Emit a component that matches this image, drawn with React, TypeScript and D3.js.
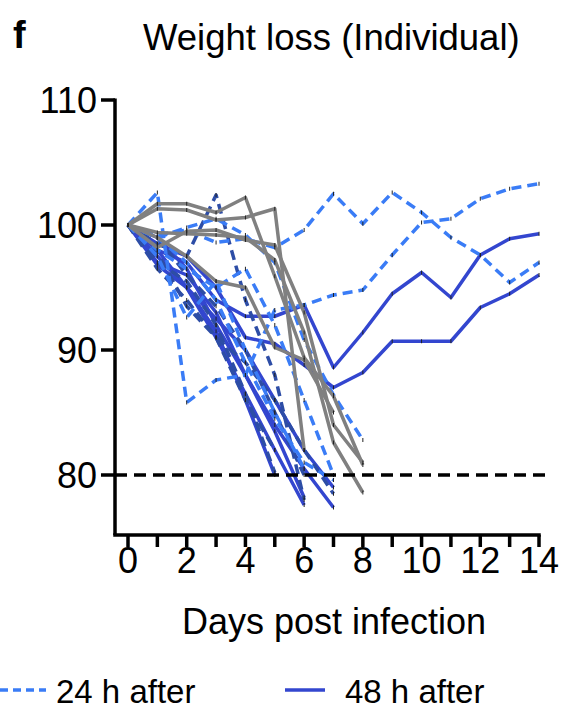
import React from "react";
import * as d3 from "d3";

// ---- Data (percent of initial body weight, days 0..n) ----
const days = [0, 1, 2, 3, 4, 5, 6, 7, 8, 9, 10, 11, 12, 13, 14];
const yTicks = [80, 90, 100, 110];
const xTicks = [0, 2, 4, 6, 8, 10, 12, 14];

// 24 h after (light blue dashed)
const light1 = [100, 99.2, 99.6, 98.6, 98.9, 98.2, 99.6, 102.5, 100.1, 102.6, 101, 99, 97.6, 95.4, 97];
const light2 = [100, 102.6, 85.8, 87.6, 88, 93.2, 93.6, 94.4, 94.8, 97.6, 100.2, 100.5, 102.1, 102.9, 103.3];
const light3 = [100, 99, 99.8, 100.5, 99.2, 97, 90.8, 86.4, 82.8];
const light4 = [100, 98, 96.5, 95, 96.5, 92, 86, 80];
const light5 = [100, 97.5, 92.6, 95.5, 90, 85, 80.5];
const light6 = [100, 99, 97, 94, 89, 84.5, 81, 79.6];

// dark navy dashed
const navy1 = [100, 97, 95.5, 92, 86.5, 80.2];
const navy2 = [100, 96.5, 94, 91, 89, 86, 82, 78.5];
const navy3 = [100, 98.5, 97.5, 102.4, 94, 88, 78];
const navy4 = [100, 99, 96, 93.5, 90, 85, 80];
const navy5 = [100, 97.8, 93.5, 91, 86, 82];

// 48 h after (solid blue)
const blue1 = [100, 98, 97, 94, 92.7, 92.7, 93.6, 88.6, 91.4, 94.5, 96.2, 94.2, 97.6, 98.9, 99.3];
const blue2 = [100, 98.5, 97.5, 95, 91, 90.5, 88.8, 87, 88.2, 90.7, 90.7, 90.7, 93.4, 94.5, 96];
const blue3 = [100, 96.8, 95, 91, 86.5, 82, 77.6];
const blue4 = [100, 97.5, 95, 92.5, 90, 86, 82, 79];
const blue5 = [100, 99, 96.5, 92, 88, 84, 80.5, 77.4];
const blue6 = [100, 98, 95, 91.5, 86, 80];
const blue7 = [100, 97, 96, 93, 88, 83.5, 78.2];

// grey
const grey1 = [100, 101.7, 101.7, 101.0, 102.2, 95.9, 89.4, 86.3, 80.8];
const grey2 = [100, 101.3, 101.2, 100.4, 100.6, 101.3, 82];
const grey3 = [100, 99.4, 99.3, 99.2, 99.0, 97.2, 91.4, 82.6, 78.6];
const grey4 = [100, 98.2, 99.5, 99.6, 98.8, 98.4, 93, 84, 81];
const grey5 = [100, 99, 97.5, 95.5, 95, 90.2, 89.2, 85];

const FONT = "'Liberation Sans', Arial, Helvetica, sans-serif";
const C_LIGHT = "#3a7cf6";
const C_NAVY = "#2d4da6";
const C_BLUE = "#3346cf";
const C_GREY = "#808080";

type S = { vals: number[]; color: string; dash?: string };

const series: S[] = [
  ...[blue1, blue2, blue3, blue4, blue5, blue6, blue7].map((v) => ({ vals: v, color: C_BLUE })),
  ...[navy1, navy2, navy3, navy4, navy5].map((v) => ({ vals: v, color: C_NAVY, dash: "10,6" })),
  ...[light1, light2, light3, light4, light5, light6].map((v) => ({ vals: v, color: C_LIGHT, dash: "10,6" })),
  ...[grey1, grey2, grey3, grey4, grey5].map((v) => ({ vals: v, color: C_GREY })),
];

export default function App() {
  const x = d3.scaleLinear().domain([0, 14]).range([128, 539]);
  const y = d3.scaleLinear().domain([110, 80]).range([100, 475]);
  const line = d3
    .line<number>()
    .x((_, i) => x(days[i]))
    .y((v) => y(v));

  const axisX = 115;
  const axisY = y(75.2);

  return (
    <svg
      width={561}
      height={709}
      style={{ position: "absolute", left: 0, top: 0, background: "#fff" }}
      fontFamily={FONT}
    >
      <text x={13} y={48} fontSize={38} fontWeight="bold">f</text>
      <text x={143} y={50} fontSize={36.5}>Weight loss (Individual)</text>

      {/* data lines */}
      {series.map((s, k) => (
        <path
          key={k}
          d={line(s.vals) || ""}
          fill="none"
          stroke={s.color}
          strokeWidth={3.5}
          strokeDasharray={s.dash}
          strokeLinejoin="round"
        />
      ))}
      {/* tiny point markers */}
      {series.map((s, k) =>
        s.vals.map((v, i) => (
          <line
            key={`${k}-${i}`}
            x1={x(days[i])}
            x2={x(days[i])}
            y1={y(v) - 2}
            y2={y(v) + 2}
            stroke="#222"
            strokeWidth={1}
          />
        ))
      )}

      {/* 80% threshold */}
      <line x1={axisX} x2={550} y1={y(80)} y2={y(80)} stroke="#000" strokeWidth={3.5} strokeDasharray="12,7" />

      {/* y axis */}
      <line x1={axisX} x2={axisX} y1={y(110) - 1.5} y2={axisY} stroke="#000" strokeWidth={3.5} />
      {yTicks.map((t) => (
        <g key={t}>
          <line x1={axisX - 14} x2={axisX} y1={y(t)} y2={y(t)} stroke="#000" strokeWidth={3.5} />
          <text x={axisX - 18} y={y(t)} fontSize={36} textAnchor="end" dominantBaseline="central">
            {t}
          </text>
        </g>
      ))}

      {/* x axis */}
      <line x1={axisX - 1.75} x2={x(14) + 1.75} y1={axisY} y2={axisY} stroke="#000" strokeWidth={3.5} />
      {days.map((d) => (
        <line key={d} x1={x(d)} x2={x(d)} y1={axisY} y2={axisY + 12} stroke="#000" strokeWidth={3.5} />
      ))}
      {xTicks.map((t) => (
        <text key={t} x={x(t)} y={axisY + 38} fontSize={36} textAnchor="middle">
          {t}
        </text>
      ))}
      <text x={334} y={634} fontSize={36} textAnchor="middle">Days post infection</text>

      {/* legend */}
      <line x1={0} x2={46} y1={690} y2={690} stroke={C_LIGHT} strokeWidth={3.5} strokeDasharray="8,5" />
      <text x={56} y={703} fontSize={33}>24 h after</text>
      <line x1={285} x2={325} y1={690} y2={690} stroke={C_BLUE} strokeWidth={3.5} />
      <text x={345} y={703} fontSize={33}>48 h after</text>
    </svg>
  );
}
